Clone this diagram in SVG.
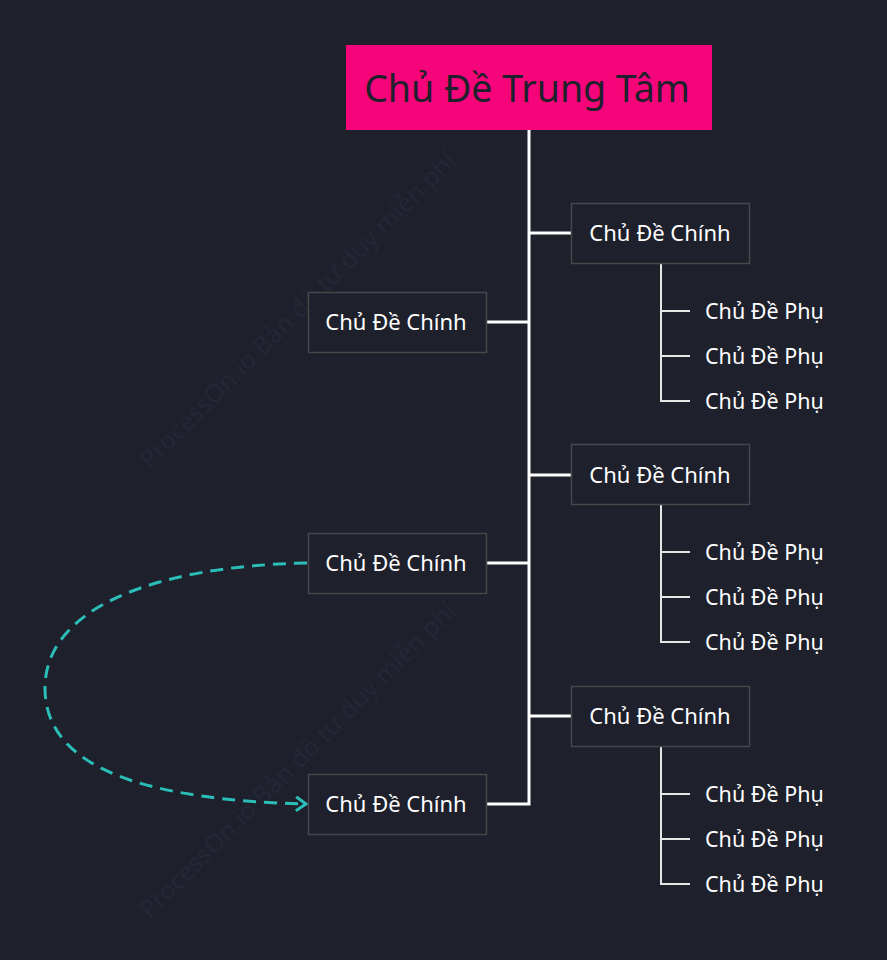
<svg xmlns="http://www.w3.org/2000/svg" width="887" height="960" viewBox="0 0 887 960">
<defs>
<style>
.bg{fill:#1e202c}
.wm{font-family:"Noto Sans",sans-serif;font-size:25px;fill:#242735}
.center rect{fill:#f5047a}
.center text{font-family:"Noto Sans","Liberation Sans",sans-serif;font-size:37.5px;fill:#1e202c;text-anchor:middle}
.main rect{fill:#1e202c;stroke:#474747;stroke-width:1.5}
.main text{font-family:"Noto Sans","Liberation Sans",sans-serif;font-size:22px;fill:#ffffff;text-anchor:middle}
.sub text{font-family:"Noto Sans","Liberation Sans",sans-serif;font-size:21.5px;fill:#ffffff}
.trunk{stroke:#ffffff;stroke-width:3;fill:none}
.twig{stroke:#e6e6e6;stroke-width:2;fill:none}
.rel{stroke:#2bbdb7;stroke-width:3;fill:none;stroke-dasharray:13 8}
</style>
<marker id="arrow" markerWidth="16" markerHeight="16" refX="12" refY="8" orient="auto" markerUnits="userSpaceOnUse">
<path d="M2,1 L12,8 L2,15" fill="none" stroke="#2bbdb7" stroke-width="3"/>
</marker>
</defs>
<rect class="bg" x="0" y="0" width="887" height="960"/>
<g id="watermarks">
<text class="wm" transform="translate(150,470) rotate(-45)">ProcessOn.io Bản đồ tư duy miễn phí</text>
<text class="wm" transform="translate(150,920) rotate(-45)">ProcessOn.io Bản đồ tư duy miễn phí</text>
</g>
<g id="connectors">
<path class="trunk" d="M529,130 L529,804 L487,804"/>
<path class="trunk" d="M529,233 L571,233 M529,475 L571,475 M529,716 L571,716"/>
<path class="trunk" d="M487,322 L529,322 M487,563 L529,563"/>
<path class="twig" d="M661,263 L661,401 L690,401 M661,311 L690,311 M661,356 L690,356"/>
<path class="twig" d="M661,505 L661,642 L690,642 M661,552 L690,552 M661,597 L690,597"/>
<path class="twig" d="M661,746 L661,884 L690,884 M661,794 L690,794 M661,839 L690,839"/>
<path class="rel" d="M307,563 C150,566 45,610 45,688 C45,770 150,800 306,804" marker-end="url(#arrow)"/>
</g>
<g id="central" class="center">
<rect x="346" y="45" width="366" height="85"/>
<text x="527" y="102">Chủ Đề Trung Tâm</text>
</g>
<g id="main1" class="main"><rect x="571.5" y="203.5" width="178" height="60"/><text x="660" y="241">Chủ Đề Chính</text></g>
<g id="main2" class="main"><rect x="308.5" y="292.5" width="178" height="60"/><text x="396" y="330">Chủ Đề Chính</text></g>
<g id="main3" class="main"><rect x="571.5" y="444.5" width="178" height="60"/><text x="660" y="483">Chủ Đề Chính</text></g>
<g id="main4" class="main"><rect x="308.5" y="533.5" width="178" height="60"/><text x="396" y="571">Chủ Đề Chính</text></g>
<g id="main5" class="main"><rect x="571.5" y="686.5" width="178" height="60"/><text x="660" y="724">Chủ Đề Chính</text></g>
<g id="main6" class="main"><rect x="308.5" y="774.5" width="178" height="60"/><text x="396" y="812">Chủ Đề Chính</text></g>
<g id="sub1" class="sub"><text x="705" y="319">Chủ Đề Phụ</text></g>
<g id="sub2" class="sub"><text x="705" y="364">Chủ Đề Phụ</text></g>
<g id="sub3" class="sub"><text x="705" y="409">Chủ Đề Phụ</text></g>
<g id="sub4" class="sub"><text x="705" y="560">Chủ Đề Phụ</text></g>
<g id="sub5" class="sub"><text x="705" y="605">Chủ Đề Phụ</text></g>
<g id="sub6" class="sub"><text x="705" y="650">Chủ Đề Phụ</text></g>
<g id="sub7" class="sub"><text x="705" y="802">Chủ Đề Phụ</text></g>
<g id="sub8" class="sub"><text x="705" y="847">Chủ Đề Phụ</text></g>
<g id="sub9" class="sub"><text x="705" y="892">Chủ Đề Phụ</text></g>
</svg>
